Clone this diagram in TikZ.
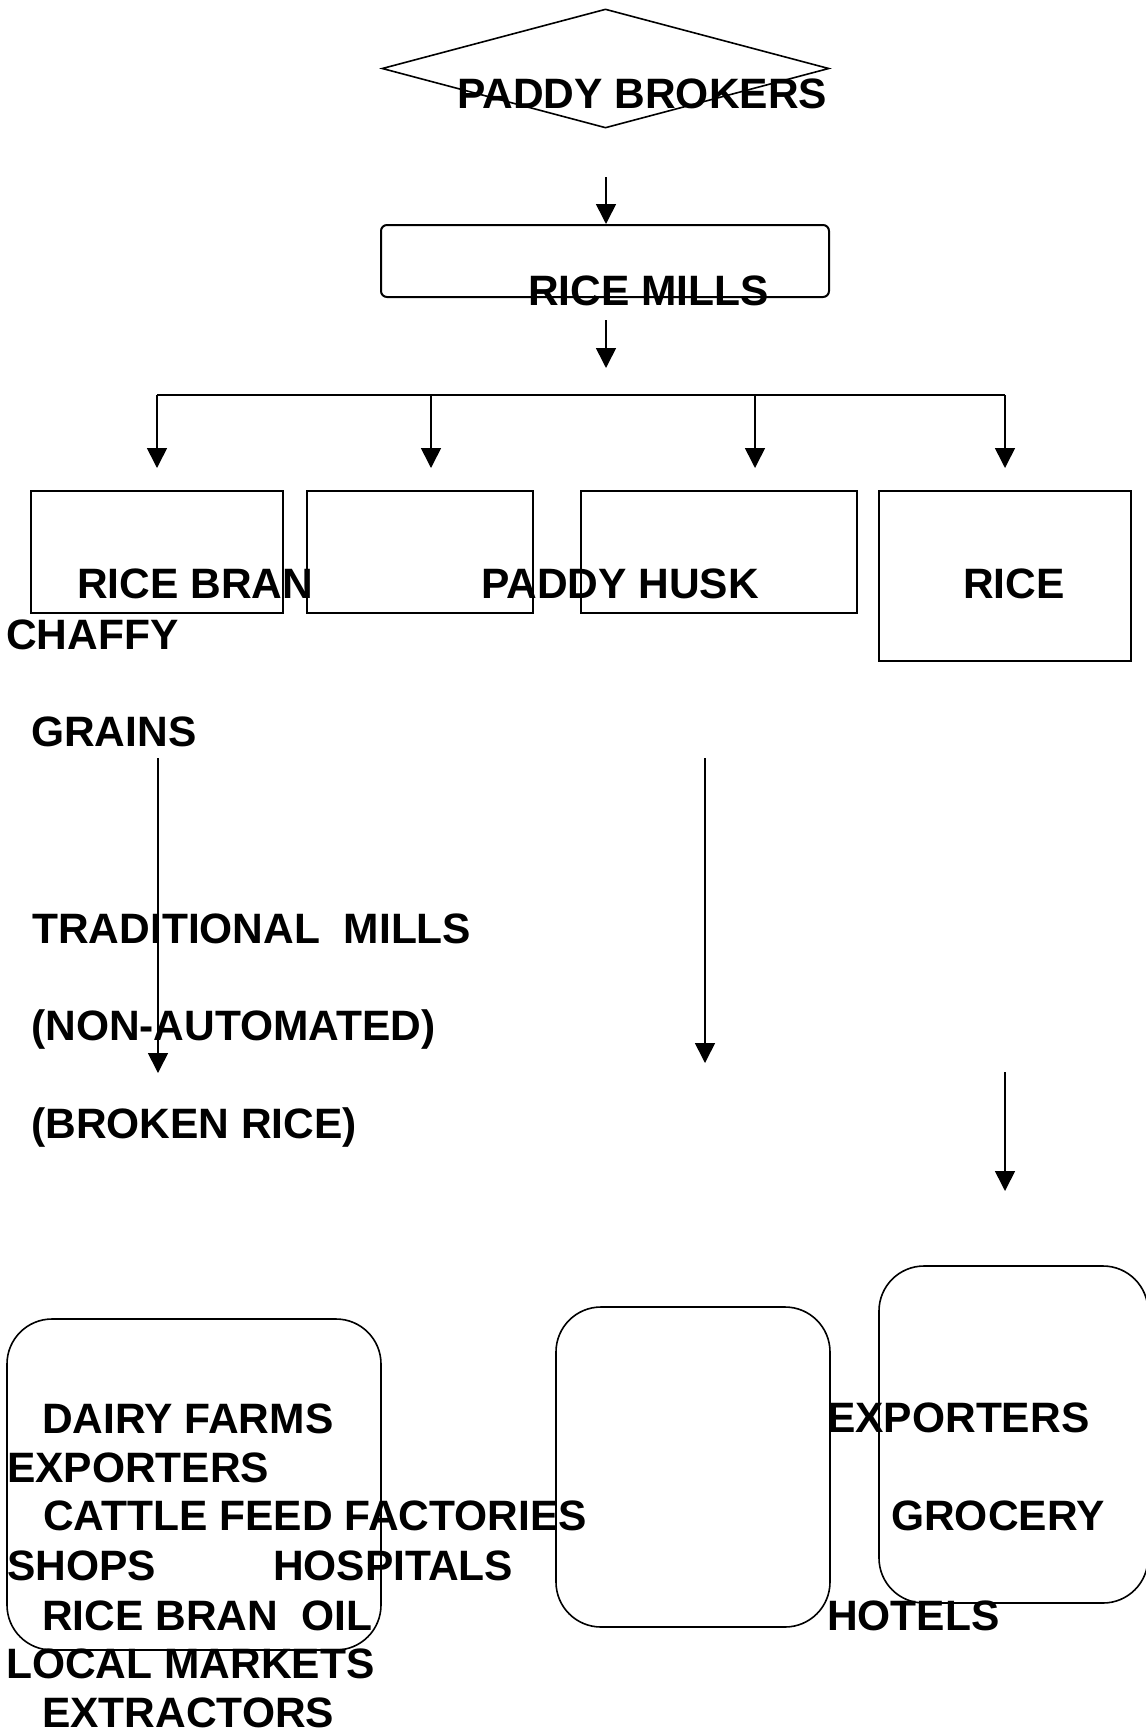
\documentclass[tikz,border=0pt]{standalone}
\usepackage{fontspec}
\setmainfont{Liberation Sans}
\usetikzlibrary{shapes.geometric,arrows.meta}
\begin{document}
\begin{tikzpicture}[x=1pt,y=-1pt,
  lbl/.style={anchor=base west,inner sep=0pt,font=\fontsize{42.5}{50}\selectfont\bfseries},
  sqbox/.style={draw,line width=2pt,rectangle,inner sep=0pt},
  rbox/.style={draw,line width=1.6pt,rectangle,rounded corners=45pt,inner sep=0pt},
  flow/.style={line width=1.6pt,-{Triangle[length=20pt,width=20pt]}},
  plain/.style={line width=1.6pt}]
\useasboundingbox (0,0) rectangle (1146,1733);
% shapes
\node[draw,line width=1.6pt,diamond,minimum width=447pt,minimum height=119pt,inner sep=0pt] (pb) at (605.5,68.5) {};
\node[sqbox,rounded corners=6pt,minimum width=448pt,minimum height=72pt] (rm) at (605,261) {};
\node[sqbox,minimum width=252pt,minimum height=122pt] (b1) at (157,552) {};
\node[sqbox,minimum width=226pt,minimum height=122pt] (b2) at (420,552) {};
\node[sqbox,minimum width=276pt,minimum height=122pt] (b3) at (719,552) {};
\node[sqbox,minimum width=252pt,minimum height=170pt] (b4) at (1005,576) {};
\node[rbox,minimum width=374pt,minimum height=331pt] (r1) at (194,1484.5) {};
\node[rbox,minimum width=274pt,minimum height=320pt] (r2) at (693,1467) {};
\node[rbox,minimum width=269pt,minimum height=337pt] (r3) at (1013.5,1434.5) {};
% connectors
\coordinate (a1s) at (606,177);
\coordinate (a2s) at (606,320);
\coordinate (a2e) at (606,368);
\coordinate (hl) at (157,395);
\coordinate (hm1) at (431,395);
\coordinate (hm2) at (755,395);
\coordinate (hr) at (1005,395);
\coordinate (t1) at (157,468);
\coordinate (t2) at (431,468);
\coordinate (t3) at (755,468);
\coordinate (t4) at (1005,468);
\coordinate (l1s) at (158,758);
\coordinate (l1e) at (158,1073);
\coordinate (l2s) at (705,758);
\coordinate (l2e) at (705,1063);
\coordinate (l3s) at (1005,1072);
\coordinate (l3e) at (1005,1191);
\draw[flow] (a1s) -- (606,224);
\draw[flow] (a2s) -- (a2e);
\draw[plain] (hl) -- (hr);
\draw[flow] (hl) -- (t1);
\draw[flow] (hm1) -- (t2);
\draw[flow] (hm2) -- (t3);
\draw[flow] (hr) -- (t4);
\draw[flow] (l1s) -- (l1e);
\draw[flow] (l2s) -- (l2e);
\draw[flow] (l3s) -- (l3e);
% texts
\node[lbl] (x1) at (457,108) {PADDY BROKERS};
\node[lbl] (x2) at (528,305) {RICE MILLS};
\node[lbl] (x3) at (77,598) {RICE BRAN};
\node[lbl] (x4) at (481,598) {PADDY HUSK};
\node[lbl] (x5) at (963,598) {RICE};
\node[lbl] (x6) at (6,649) {CHAFFY};
\node[lbl] (x7) at (31,746) {GRAINS};
\node[lbl] (x8) at (32,943) {TRADITIONAL\ \ MILLS};
\node[lbl] (x9) at (31,1040) {(NON-AUTOMATED)};
\node[lbl] (x10) at (31,1138) {(BROKEN RICE)};
\node[lbl] (x11) at (42,1433) {DAIRY FARMS};
\node[lbl] (x12) at (7,1482) {EXPORTERS};
\node[lbl] (x13) at (43,1530) {CATTLE FEED FACTORIES};
\node[lbl] (x14) at (7,1580) {SHOPS};
\node[lbl] (x15) at (273,1580) {HOSPITALS};
\node[lbl] (x16) at (42,1630) {RICE BRAN\ \ OIL};
\node[lbl] (x17) at (6,1678) {LOCAL MARKETS};
\node[lbl] (x18) at (42,1727) {EXTRACTORS};
\node[lbl] (x19) at (827,1432) {EXPORTERS};
\node[lbl] (x20) at (891,1530) {GROCERY};
\node[lbl] (x21) at (827,1630) {HOTELS};
\end{tikzpicture}
\end{document}
